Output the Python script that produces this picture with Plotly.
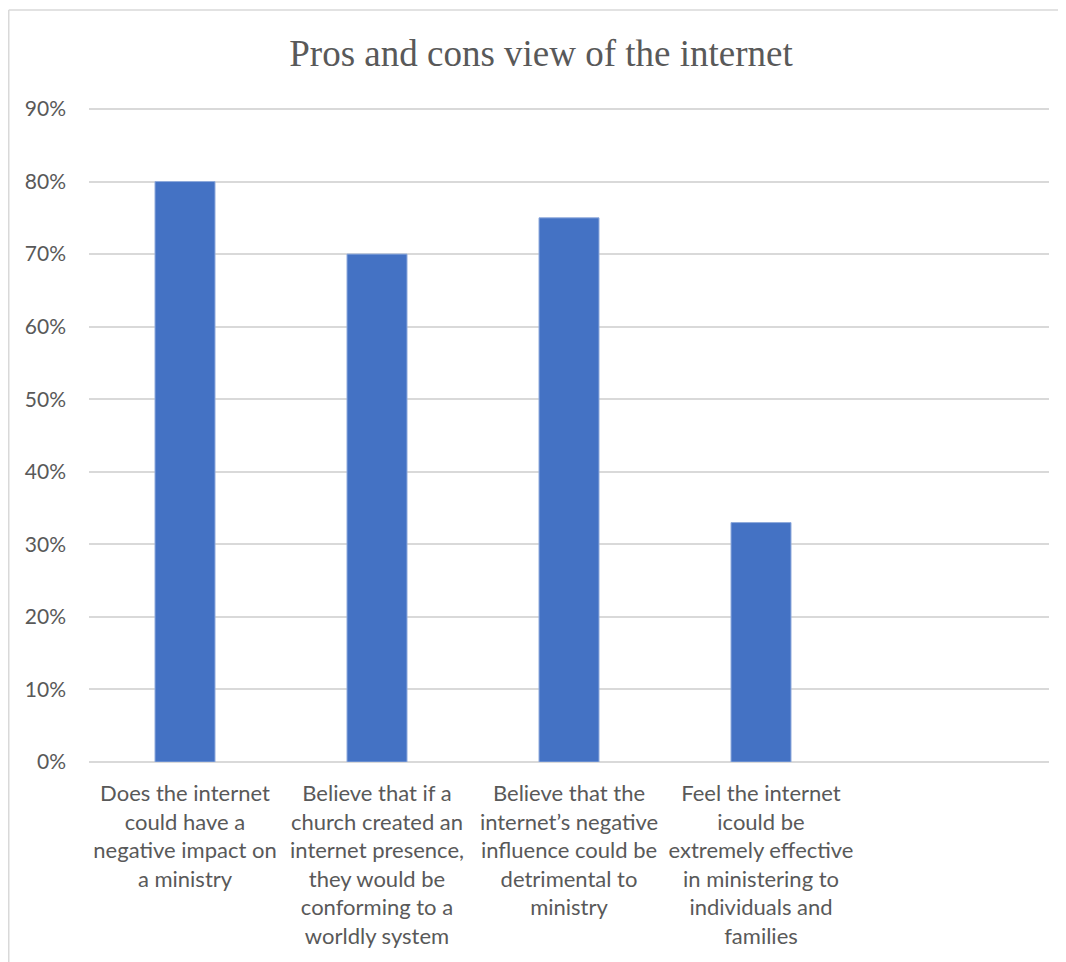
import plotly.graph_objects as go

categories = [
    "Does the internet<br>could have a<br>negative impact on<br>a ministry",
    "Believe that if a<br>church created an<br>internet presence,<br>they would be<br>conforming to a<br>worldly system",
    "Believe that the<br>internet’s negative<br>influence could be<br>detrimental to<br>ministry",
    "Feel the internet<br>icould be<br>extremely effective<br>in ministering to<br>individuals and<br>families",
]
values = [0.80, 0.70, 0.75, 0.33]
y_ticks = [0, 0.1, 0.2, 0.3, 0.4, 0.5, 0.6, 0.7, 0.8, 0.9]

# page has an 8px body margin; work in figure coordinates = reference - 8
OFF = 8
EXTRA = 4  # px of headroom above the 90% gridline so plotly draws it
W, H = 1066 - OFF, 962 - OFF
L = 89 - OFF
R = W - (1049 - OFF)
T = 109 - OFF - EXTRA
B = H - (762 - OFF)
PH = H - T - B
y_top_val = 0.9 * PH / (PH - EXTRA)

fig = go.Figure(go.Bar(
    x=categories, y=values,
    marker=dict(color="#4472C4", line=dict(color="#8FAADC", width=1)),
))

grid = "#d9d9d9"
fig.update_layout(
    width=W, height=H,
    margin=dict(l=L, r=R, t=T, b=B, pad=0),
    paper_bgcolor="white", plot_bgcolor="white",
    bargap=0.6875,
    showlegend=False,
    title=dict(
        text="Pros and cons view of the internet",
        font=dict(family="Liberation Serif", size=37, color="#595959"),
        x=(541 - OFF) / W, xanchor="center",
        y=1 - (53 - OFF) / H, yanchor="middle", yref="container",
    ),
    font=dict(family="Lato", size=22, color="#595959"),
)
fig.update_xaxes(
    type="category", range=[-0.5, 4.5],
    showgrid=False, showline=False, ticks="",
    tickfont=dict(family="Lato", size=22, color="#595959"),
    tickangle=0, ticklabelstandoff=16,
)
fig.update_yaxes(
    range=[0, y_top_val], tickvals=y_ticks, tickformat=".0%",
    showgrid=True, gridcolor=grid, gridwidth=1.5,
    zeroline=True, zerolinecolor=grid, zerolinewidth=1.5,
    showline=False, ticks="", ticklabelstandoff=22,
    tickfont=dict(family="Lato", size=21, color="#595959"),
)

# outer chart frame (left and top edges)
PW = W - L - R
x0 = (0.75 - L) / PW
x1 = (W - L) / PW
y_top = 1 + (T - 2) / PH
y_bot = -B / PH
fig.add_shape(type="line", xref="paper", yref="paper", x0=x0, x1=x0, y0=y_bot, y1=y_top,
              line=dict(color=grid, width=1.5), layer="below")
fig.add_shape(type="line", xref="paper", yref="paper", x0=x0, x1=x1, y0=y_top, y1=y_top,
              line=dict(color=grid, width=1.5), layer="below")

fig.write_html("out.html")
